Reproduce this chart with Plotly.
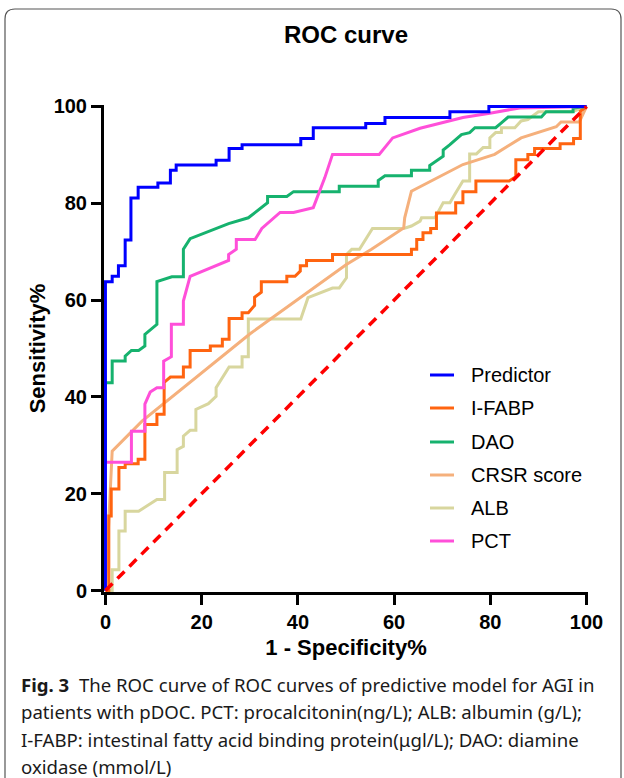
import plotly.graph_objects as go

# ---------------- data ----------------
pred_x = [0, 0, 1.4, 1.4, 2.7, 2.7, 4.1, 4.1, 5.3, 5.3, 6.8, 6.8, 10.9, 10.9, 13.5, 13.5, 14.7, 14.7,
          23, 23, 25.7, 25.7, 28.4, 28.4, 40.6, 40.6, 43.2, 43.2, 54.1, 54.1, 58.1, 58.1, 71.6, 71.6,
          79.7, 79.7, 100]
pred_y = [0, 63.8, 63.8, 64.9, 64.9, 67.1, 67.1, 72.4, 72.4, 81.1, 81.1, 83.3, 83.3, 84.2, 84.2, 86.8,
          86.8, 87.9, 87.9, 88.9, 88.9, 91.3, 91.3, 92.1, 92.1, 93.4, 93.4, 95.6, 95.6, 96.5, 96.5, 97.7,
          97.7, 98.9, 98.9, 100, 100]

ifabp_x = [0, 0.7, 0.7, 1.2, 1.2, 2.8, 2.8, 4.1, 4.1, 6.8, 6.8, 8.2, 8.2, 10.7, 10.7, 12.2, 12.2, 13.5,
           16.2, 16.2, 17.6, 17.6, 21.8, 21.8, 24.3, 24.3, 25.7, 25.7, 28.4, 28.4, 29.7, 31.0, 31.0, 32.4,
           32.4, 37.7, 37.7, 39.4, 40.5, 40.5, 41.8, 41.8, 47.2, 47.2, 63.6, 63.6, 64.7, 64.7, 66.0, 66.0,
           67.6, 67.6, 68.8, 68.8, 72.8, 72.8, 74.3, 74.3, 77.0, 77.0, 83.9, 85.3, 85.3, 87.8, 87.8, 89.2,
           89.2, 94.5, 94.5, 97.3, 97.3, 98.7, 98.7, 100]
ifabp_y = [0, 0, 15.4, 15.4, 21.0, 21.0, 25.4, 25.4, 26.2, 26.2, 27.1, 27.1, 34.3, 34.3, 36.4, 36.4, 43.0,
           44.1, 44.1, 46.2, 46.2, 49.6, 49.6, 50.5, 50.5, 51.9, 51.9, 56.2, 56.2, 57.4, 57.4, 58.9, 60.6,
           61.6, 63.8, 63.8, 64.9, 64.9, 66.0, 67.1, 67.1, 68.2, 68.2, 69.4, 69.4, 70.5, 70.5, 72.5, 72.5,
           73.9, 73.9, 74.8, 74.8, 78.0, 78.0, 80.1, 80.1, 82.4, 82.4, 84.6, 84.6, 85.5, 89.0, 89.0, 90.1,
           90.1, 91.3, 91.3, 92.3, 92.3, 93.4, 93.4, 99.0, 100]

dao_x = [0, 0, 1.4, 1.4, 4.1, 4.1, 5.4, 6.9, 8.2, 8.2, 10.7, 10.7, 13.8, 16.2, 16.2, 17.6, 25.6, 29.7,
         33.7, 33.7, 37.7, 39.1, 48.6, 48.6, 56.7, 56.7, 58.1, 63.6, 63.6, 67.4, 67.4, 70.2, 70.2, 71.6,
         74.0, 75.7, 76.8, 81.1, 82.3, 83.7, 90.6, 91.6, 97.2, 97.2, 100]
dao_y = [0, 42.9, 42.9, 47.4, 47.4, 48.4, 49.6, 49.6, 50.5, 52.9, 55.0, 63.8, 64.8, 64.8, 70.5, 72.7,
         75.8, 77.0, 80.1, 81.4, 81.4, 82.4, 82.4, 83.5, 83.5, 84.7, 85.7, 85.7, 86.8, 86.8, 87.8, 89.7,
         91.0, 92.1, 94.2, 94.6, 95.6, 95.6, 96.6, 97.8, 97.8, 98.9, 98.9, 99.7, 100]

crsr_x = [0, 1.4, 7.6, 30.0, 50.0, 55.3, 62.0, 62.2, 63.6, 74.3, 80.9, 86.4, 93.7, 94.7, 98.5, 100]
crsr_y = [0, 28.8, 35.0, 53.0, 67.3, 70.5, 74.9, 77.0, 82.5, 88.0, 90.1, 93.5, 95.8, 96.8, 96.8, 100]

alb_x = [0, 1.4, 1.4, 2.8, 2.8, 4.1, 4.1, 6.9, 10.7, 12.3, 12.3, 14.9, 14.9, 16.2, 16.2, 17.6, 18.8,
         18.8, 21.4, 23.0, 23.0, 25.7, 28.4, 28.4, 29.7, 29.7, 40.6, 42.1, 47.2, 48.6, 50.1, 50.1, 51.2,
         52.8, 55.5, 62.0, 63.6, 65.4, 65.7, 68.5, 70.2, 71.6, 72.6, 74.3, 75.7, 75.7, 77.1, 78.5, 79.9,
         79.9, 81.1, 82.3, 82.3, 85.1, 86.4, 87.8, 90.0, 97.0, 100]
alb_y = [0, 0, 4.3, 4.3, 12.3, 12.3, 16.4, 16.4, 18.8, 18.8, 24.4, 24.4, 29.1, 29.8, 31.9, 33.1, 33.1,
         37.4, 38.6, 40.1, 41.9, 46.2, 46.2, 48.3, 48.3, 56.1, 56.1, 60.5, 62.5, 62.5, 64.6, 69.4, 70.5,
         70.5, 74.8, 74.8, 75.3, 76.3, 77.0, 77.0, 80.1, 80.1, 81.8, 84.6, 84.6, 90.2, 90.2, 91.5, 91.5,
         93.5, 94.6, 94.6, 95.6, 95.6, 97.0, 97.3, 98.9, 98.9, 100]

pct_x = [0, 0, 5.4, 5.4, 8.2, 8.2, 9.3, 10.7, 12.1, 12.1, 13.7, 13.7, 16.2, 16.2, 17.6, 25.6, 25.6,
         27.2, 27.2, 31.1, 32.5, 36.3, 39.1, 43.2, 45.6, 47.2, 56.9, 59.7, 65.4, 74.3, 79.9, 86.1, 100]
pct_y = [0, 26.5, 26.5, 32.9, 32.9, 38.5, 41.0, 41.9, 41.9, 47.4, 48.3, 55.0, 55.0, 59.8, 64.9, 68.2,
         69.4, 70.5, 72.5, 72.5, 74.8, 78.1, 78.1, 79.1, 85.3, 90.1, 90.1, 93.5, 95.5, 97.7, 98.6, 99.7, 100]

ref_x = [0, 100]
ref_y = [0, 100]

legend_labels = ["Predictor", "I-FABP", "DAO", "CRSR score", "ALB", "PCT"]
legend_colors = ["#0000ff", "#ff6410", "#16b26e", "#f5b07c", "#d8d69e", "#ff4fd9"]
tick_vals = [0, 20, 40, 60, 80, 100]
tick_text = ["0", "20", "40", "60", "80", "100"]

title_text = "ROC curve"
x_title = "1 - Specificity%"
y_title = "Sensitivity%"
caption_lines = [
    "<b>Fig. 3</b>  The ROC curve of ROC curves of predictive model for AGI in",
    "patients with pDOC. PCT: procalcitonin(ng/L); ALB: albumin (g/L);",
    "I-FABP: intestinal fatty acid binding protein(μgl/L); DAO: diamine",
    "oxidase (mmol/L)",
]

# ---------------- layout geometry ----------------
W, H = 624, 778
ML, MR, MT, MB = 104, 36, 105, 186
PW = W - ML - MR
PH = H - MT - MB


def pxx(px):
    return (px - ML) / PW


def pxy(py):
    return (MT + PH - py) / PH


fig = go.Figure()

series = [
    (alb_x, alb_y, legend_colors[4]),
    (crsr_x, crsr_y, legend_colors[3]),
    (ifabp_x, ifabp_y, legend_colors[1]),
    (dao_x, dao_y, legend_colors[2]),
    (pct_x, pct_y, legend_colors[5]),
    (pred_x, pred_y, legend_colors[0]),
]
for xs, ys, c in series:
    fig.add_trace(go.Scatter(x=xs, y=ys, mode="lines", line=dict(color=c, width=3),
                             showlegend=False, hoverinfo="skip"))

fig.add_trace(go.Scatter(x=ref_x, y=ref_y, mode="lines",
                         line=dict(color="#ff0000", width=3.5, dash="10px,7px"),
                         showlegend=False, hoverinfo="skip"))

axis_font = dict(family="Liberation Sans, Arial", size=20, color="black", weight="bold")
fig.update_xaxes(range=[-0.3, 100.3], tickvals=tick_vals, ticktext=tick_text, showline=True,
                 linewidth=3, linecolor="black", ticks="outside", ticklen=10, tickwidth=3,
                 tickcolor="black", tickfont=axis_font, showgrid=False, zeroline=False,
                 title=dict(text=x_title, font=dict(family="Liberation Sans, Arial", size=22,
                                                    color="black", weight="bold"), standoff=8))
fig.update_yaxes(range=[-0.3, 100.3], tickvals=tick_vals, ticktext=tick_text, showline=True,
                 linewidth=3, linecolor="black", ticks="outside", ticklen=10, tickwidth=3,
                 tickcolor="black", tickfont=axis_font, showgrid=False, zeroline=False,
                 title=dict(text=y_title, font=dict(family="Liberation Sans, Arial", size=22,
                                                    color="black", weight="bold"), standoff=2))

shapes = []
annotations = []

# legend (manual)
leg_y = [375, 408, 442, 475, 508, 541]
for lab, col, yy in zip(legend_labels, legend_colors, leg_y):
    shapes.append(dict(type="line", xref="paper", yref="paper", x0=pxx(430), x1=pxx(454),
                       y0=pxy(yy), y1=pxy(yy), line=dict(color=col, width=3)))
    annotations.append(dict(xref="paper", yref="paper", x=pxx(469), y=pxy(yy), text=lab,
                            showarrow=False, xanchor="left", yanchor="middle",
                            font=dict(family="Liberation Sans, Arial", size=20, color="black")))

# title
annotations.append(dict(xref="paper", yref="paper", x=pxx(346), y=pxy(35), text="<b>" + title_text + "</b>",
                        showarrow=False, xanchor="center", yanchor="middle",
                        font=dict(family="Liberation Sans, Arial", size=24, color="black")))

# caption
cap_y = [684, 711, 739, 766]
for line, yy in zip(caption_lines, cap_y):
    annotations.append(dict(xref="paper", yref="paper", x=pxx(19), y=pxy(yy), text=line,
                            showarrow=False, xanchor="left", yanchor="middle",
                            font=dict(family="Noto Sans", size=18.6, color="#1a1a1a")))

# frame
x0f, x1f, y0f, y1f = pxx(5), pxx(621), pxy(9), pxy(790)
rx = 10 / PW
ry = 10 / PH
path = (f"M {x0f},{y1f} L {x0f},{y0f - ry} Q {x0f},{y0f} {x0f + rx},{y0f} "
        f"L {x1f - rx},{y0f} Q {x1f},{y0f} {x1f},{y0f - ry} L {x1f},{y1f}")
shapes.append(dict(type="path", xref="paper", yref="paper", path=path,
                   line=dict(color="#555555", width=1.2)))

fig.update_layout(width=W, height=H, margin=dict(l=ML, r=MR, t=MT, b=MB),
                  plot_bgcolor="white", paper_bgcolor="white", showlegend=False,
                  shapes=shapes, annotations=annotations)

fig.write_html("out.html")
